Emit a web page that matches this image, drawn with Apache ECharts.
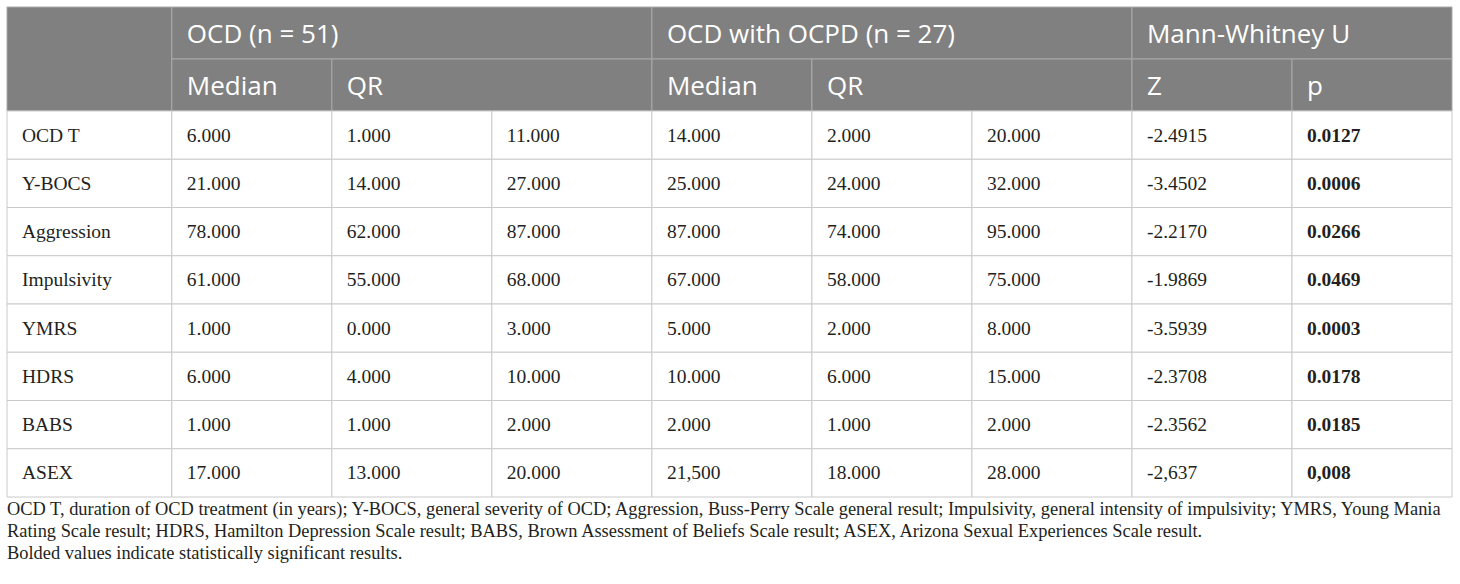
<!DOCTYPE html>
<html>
<head>
    <meta charset="utf-8">
    <title>OCD vs OCD with OCPD</title>
    <script src="https://cdn.jsdelivr.net/npm/echarts@6/dist/echarts.min.js"></script>
    <style>
        html, body { margin: 0; padding: 0; background: #fff; }
        #chart { width: 1460px; height: 584px; }
    </style>
</head>
<body>
<div id="chart"></div>
<script type="text/javascript">
    // 表格数据
    var rowLabels = ['OCD T', 'Y-BOCS', 'Aggression', 'Impulsivity', 'YMRS', 'HDRS', 'BABS', 'ASEX'];
    var groupTitles = ['OCD (n = 51)', 'OCD with OCPD (n = 27)', 'Mann-Whitney U'];
    var subHeaders = ['Median', 'QR', 'Median', 'QR', 'Z', 'p'];

    var ocdMedian = ['6.000', '21.000', '78.000', '61.000', '1.000', '6.000', '1.000', '17.000'];
    var ocdQ1 = ['1.000', '14.000', '62.000', '55.000', '0.000', '4.000', '1.000', '13.000'];
    var ocdQ3 = ['11.000', '27.000', '87.000', '68.000', '3.000', '10.000', '2.000', '20.000'];
    var ocpdMedian = ['14.000', '25.000', '87.000', '67.000', '5.000', '10.000', '2.000', '21,500'];
    var ocpdQ1 = ['2.000', '24.000', '74.000', '58.000', '2.000', '6.000', '1.000', '18.000'];
    var ocpdQ3 = ['20.000', '32.000', '95.000', '75.000', '8.000', '15.000', '2.000', '28.000'];
    var zValues = ['-2.4915', '-3.4502', '-2.2170', '-1.9869', '-3.5939', '-2.3708', '-2.3562', '-2,637'];
    var pValues = ['0.0127', '0.0006', '0.0266', '0.0469', '0.0003', '0.0178', '0.0185', '0,008'];
    var pBold = [true, true, true, true, true, true, true, true];

    var footnote = [
        'OCD T, duration of OCD treatment (in years); Y-BOCS, general severity of OCD; Aggression, Buss-Perry Scale general result; Impulsivity, general intensity of impulsivity; YMRS, Young Mania',
        'Rating Scale result; HDRS, Hamilton Depression Scale result; BABS, Brown Assessment of Beliefs Scale result; ASEX, Arizona Sexual Experiences Scale result.',
        'Bolded values indicate statistically significant results.'
    ];

    // 表头单元格 [列起, 列止, 行起, 行止]
    var headerCells = [];
    var headerTexts = [];
    headerCells.push([0, 1, 0, 2]); headerTexts.push('');
    headerCells.push([1, 4, 0, 1]); headerTexts.push(groupTitles[0]);
    headerCells.push([4, 7, 0, 1]); headerTexts.push(groupTitles[1]);
    headerCells.push([7, 9, 0, 1]); headerTexts.push(groupTitles[2]);
    var subSpans = [[1, 2], [2, 4], [4, 5], [5, 7], [7, 8], [8, 9]];
    subSpans.forEach(function (s, i) {
        headerCells.push([s[0], s[1], 1, 2]);
        headerTexts.push(subHeaders[i]);
    });

    // 表体单元格
    var bodyCells = [];
    var bodyTexts = [];
    var bodyBold = [];
    var columns = [rowLabels, ocdMedian, ocdQ1, ocdQ3, ocpdMedian, ocpdQ1, ocpdQ3, zValues, pValues];
    for (var r = 0; r < rowLabels.length; r++) {
        for (var c = 0; c < columns.length; c++) {
            bodyCells.push([c, c + 1, r, r + 1]);
            bodyTexts.push(columns[c][r]);
            bodyBold.push(c === 8 && pBold[r]);
        }
    }

    function makeRender(texts, boldFlags, isHeader) {
        return function (params, api) {
            var cs = params.coordSys;
            var c0 = api.value(0), c1 = api.value(1), r0 = api.value(2), r1 = api.value(3);
            var x0 = c0 === 0 ? cs.x : api.coord([c0, r0])[0];
            var x1 = api.coord([c1, r0])[0];
            var y0 = api.coord([c0, r0])[1];
            var y1 = api.coord([c0, r1])[1];
            var text = texts[params.dataIndex];
            var bold = boldFlags ? boldFlags[params.dataIndex] : false;
            return {
                type: 'group',
                children: [{
                    type: 'rect',
                    shape: { x: x0, y: y0, width: x1 - x0, height: y1 - y0 },
                    style: {
                        fill: isHeader ? '#808080' : '#ffffff',
                        stroke: isHeader ? '#a9a9a9' : '#cacaca',
                        lineWidth: 1
                    }
                }, {
                    type: 'text',
                    style: {
                        text: text,
                        x: x0 + 15,
                        y: (y0 + y1) / 2,
                        align: 'left',
                        verticalAlign: 'middle',
                        fill: isHeader ? '#ffffff' : '#231f20',
                        fontFamily: isHeader ? '"Open Sans", sans-serif' : '"Liberation Serif", serif',
                        fontSize: isHeader ? 26 : 19.5,
                        fontWeight: bold ? 'bold' : 'normal'
                    }
                }]
            };
        };
    }

    var myChart = echarts.init(document.getElementById('chart'), null, { renderer: 'svg' });

    myChart.setOption({
        animation: false,
        backgroundColor: '#ffffff',
        title: {
            text: footnote.join('\n'),
            left: 7,
            top: 498,
            padding: 0,
            textStyle: {
                fontFamily: '"Liberation Serif", serif',
                fontSize: 18.4,
                fontWeight: 'normal',
                color: '#231f20',
                lineHeight: 22
            }
        },
        grid: [
            { left: 7, top: 7, width: 1445, height: 104 },
            { left: 7, top: 111, width: 1445, height: 386 }
        ],
        xAxis: [
            { type: 'value', gridIndex: 0, min: -0.03, max: 9, show: false },
            { type: 'value', gridIndex: 1, min: -0.03, max: 9, show: false }
        ],
        yAxis: [
            { type: 'value', gridIndex: 0, min: 0, max: 2, inverse: true, show: false },
            { type: 'value', gridIndex: 1, min: 0, max: 8, inverse: true, show: false }
        ],
        series: [{
            type: 'custom',
            xAxisIndex: 0,
            yAxisIndex: 0,
            renderItem: makeRender(headerTexts, null, true),
            encode: { x: [0, 1], y: [2, 3] },
            data: headerCells,
            silent: true
        }, {
            type: 'custom',
            xAxisIndex: 1,
            yAxisIndex: 1,
            renderItem: makeRender(bodyTexts, bodyBold, false),
            encode: { x: [0, 1], y: [2, 3] },
            data: bodyCells,
            silent: true
        }]
    });
</script>
</body>
</html>
